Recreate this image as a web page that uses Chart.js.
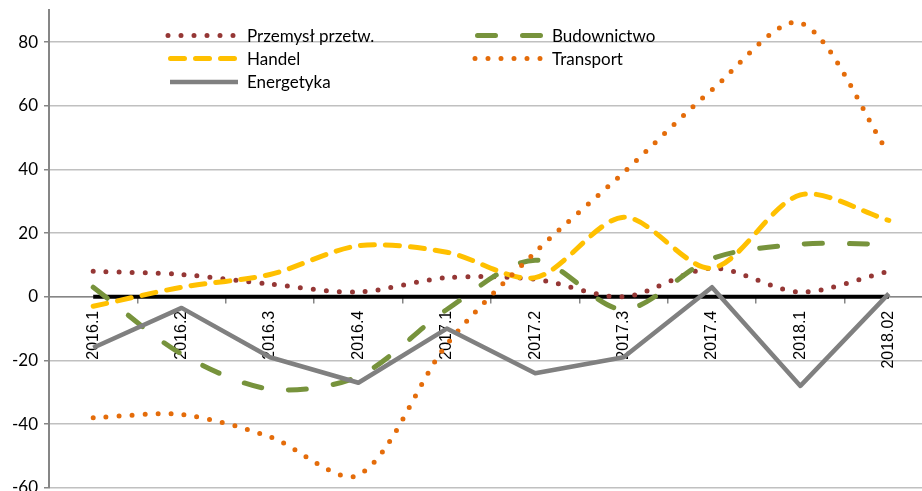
<!DOCTYPE html>
<html><head><meta charset="utf-8">
<script src="https://cdn.jsdelivr.net/npm/chart.js@4/dist/chart.umd.min.js"></script>
<style>
html,body{margin:0;padding:0;overflow:hidden;background:#fff;width:922px;height:491px}
#wrap{position:absolute;left:0;top:-6px;width:933px;height:510px}
</style>
</head><body><div id="wrap"><canvas id="c" width="933" height="510"></canvas></div>
<script>
const categories = ['2016.1','2016.2','2016.3','2016.4','2017.1','2017.2','2017.3','2017.4','2018.1','2018.02'];
const przemysl    = [8, 7, 4, 1.5, 6, 5.5, 0, 9, 1.5, 8];
const budownictwo = [3, -18, -29, -25, -4, 11.5, -4, 12, 16.5, 16.5];
const handel      = [-3, 3, 7, 16, 14, 6, 25, 9, 32, 24];
const transport   = [-38, -37, -44, -56, -15, 14, 39, 65, 86, 45];
const energetyka  = [-16, -3.5, -19, -27, -10, -24, -19, 3, -28, 1];
const zeroLine    = [0, 0, 0, 0, 0, 0, 0, 0, 0, 0];
const yTicks      = [-60, -40, -20, 0, 20, 40, 60, 80];
const seriesNames = ['Przemysł przetw.', 'Budownictwo', 'Handel', 'Transport', 'Energetyka'];

// legend layout (page coordinates; canvas is shifted up by 6px)
const legendPos = [[168,35.5],[473,35.5],[168,58.5],[473,58.5],[168,82]];
const legendSpan = [[168,240],[477.5,541],[170.5,237.5],[475,546],[170,238]];
const canvasShift = 6;

const customLegend = {
  id: 'customLegend',
  afterDraw(chart) {
    const ctx = chart.ctx;
    const items = chart.data.datasets.filter(d => d.label);
    items.forEach((d, i) => {
      const x = legendPos[i][0];
      const y = legendPos[i][1] + canvasShift;
      const [x0, x1] = legendSpan[i];
      ctx.save();
      ctx.strokeStyle = d.borderColor;
      ctx.lineWidth = d.borderWidth;
      ctx.lineCap = d.borderCapStyle || 'butt';
      ctx.setLineDash(d.borderDash || []);
      ctx.beginPath();
      ctx.moveTo(x0, y);
      ctx.lineTo(x1, y);
      ctx.stroke();
      ctx.setLineDash([]);
      ctx.fillStyle = '#000';
      ctx.font = '17px Lato';
      ctx.textBaseline = 'middle';
      ctx.textAlign = 'left';
      ctx.fillText(d.label, x + 79, y + 1);
      ctx.restore();
    });
  }
};

function lineDs(label, data, color, width, dash, cap, tension, order) {
  return {
    label, data, borderColor: color, backgroundColor: color, borderWidth: width,
    borderDash: dash, borderCapStyle: cap, borderJoinStyle: 'round',
    tension, pointRadius: 0, pointHoverRadius: 0, fill: false, order
  };
}

new Chart(document.getElementById('c'), {
  type: 'line',
  data: {
    labels: categories,
    datasets: [
      lineDs(seriesNames[0], przemysl, '#953735', 5, [0, 13], 'round', 0.3, 5),
      lineDs(seriesNames[1], budownictwo, '#77933C', 5, [18, 27], 'round', 0.3, 4),
      lineDs(seriesNames[2], handel, '#FFC000', 5, [14, 11], 'round', 0.3, 3),
      lineDs(seriesNames[3], transport, '#E46C0A', 5, [0, 13], 'round', 0.3, 2),
      lineDs(seriesNames[4], energetyka, '#808080', 4.5, [], 'butt', 0, 1),
      lineDs('', zeroLine, '#000000', 4, [], 'butt', 0, 6)
    ]
  },
  options: {
    responsive: false,
    animation: false,
    devicePixelRatio: 1,
    layout: { padding: { left: 0, right: 0, top: 0, bottom: 0 } },
    plugins: { legend: { display: false }, tooltip: { enabled: false } },
    scales: {
      x: {
        type: 'category',
        offset: true,
        position: { y: 0 },
        grid: { offset: true, drawOnChartArea: false, drawTicks: true, tickLength: 6, tickColor: '#868686', lineWidth: 1.5 },
        border: { color: '#868686', width: 1.5 },
        ticks: { minRotation: 90, maxRotation: 90, autoSkip: false, padding: 8, color: '#000',
                 font: { family: 'Liberation Sans', size: 16 } }
      },
      y: {
        min: -60, max: 90,
        afterBuildTicks: s => { s.ticks = yTicks.map(v => ({ value: v })); },
        afterFit: s => { s.width = 49; },
        grid: { color: '#c0c0c0', lineWidth: 1.5, tickLength: 5, tickColor: '#868686' },
        border: { color: '#868686', width: 2 },
        ticks: { padding: 6, color: '#000', font: { family: 'Lato', size: 17 } }
      }
    }
  },
  plugins: [customLegend]
});
</script>
</body></html>
